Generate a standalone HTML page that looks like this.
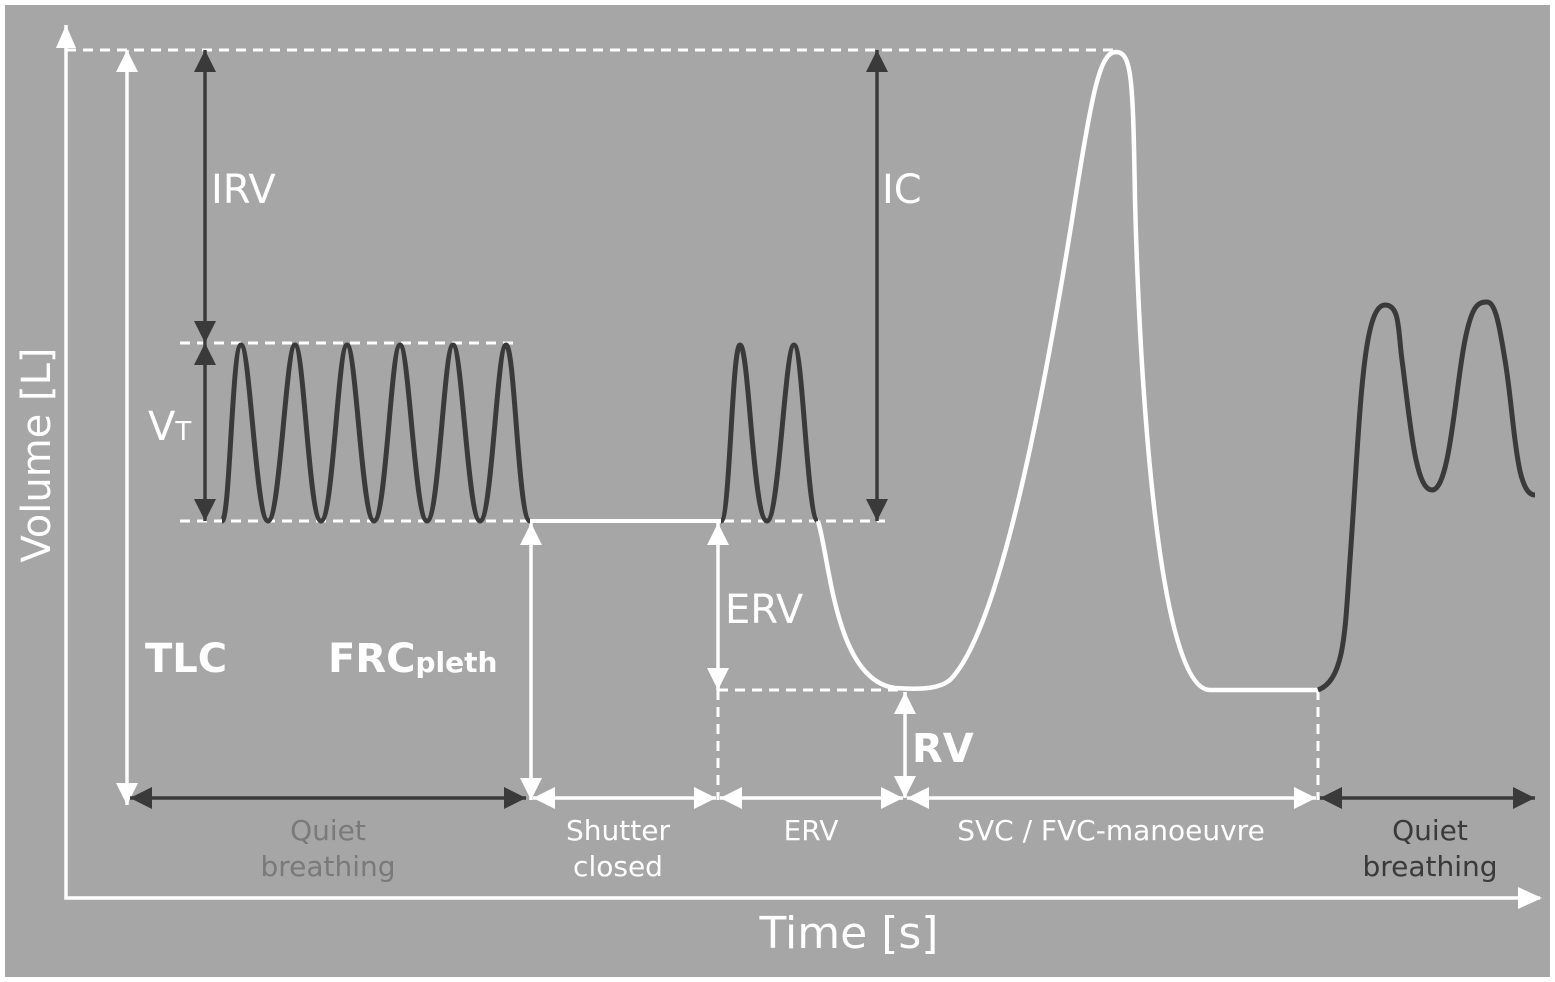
<!DOCTYPE html>
<html><head><meta charset="utf-8"><style>
html,body{margin:0;padding:0;background:#fff}
svg{display:block}
text{font-family:"DejaVu Sans","Liberation Sans",sans-serif}
</style></head><body>
<svg width="1555" height="982" viewBox="0 0 1555 982" xmlns="http://www.w3.org/2000/svg">
<defs>
<marker id="wa" viewBox="0 0 10 10" refX="10" refY="5" markerWidth="22" markerHeight="22" markerUnits="userSpaceOnUse" orient="auto-start-reverse"><path d="M0,0 L10,5 L0,10 z" fill="#fff"/></marker>
<marker id="da" viewBox="0 0 10 10" refX="10" refY="5" markerWidth="22" markerHeight="22" markerUnits="userSpaceOnUse" orient="auto-start-reverse"><path d="M0,0 L10,5 L0,10 z" fill="#3a3a3a"/></marker>
</defs>
<rect x="5" y="5" width="1545" height="972" fill="#a6a6a6"/>
<polyline points="66,25 66,898 1540,898" fill="none" stroke="#fff" stroke-width="3.5"/>
<path d="M56,48 L66,25 L76,48 z" fill="#fff"/>
<path d="M1518,887 L1542,898 L1518,909 z" fill="#fff"/>
<g stroke="#fff" stroke-width="3" stroke-dasharray="10,7" fill="none">
<line x1="66" y1="50" x2="1115" y2="50"/>
<line x1="180" y1="343" x2="515" y2="343"/>
<line x1="180" y1="521" x2="885" y2="521"/>
<line x1="718" y1="690" x2="900" y2="690"/>
<line x1="718" y1="690" x2="718" y2="800"/>
<line x1="1318" y1="690" x2="1318" y2="800"/>
</g>
<line x1="127" y1="50" x2="127" y2="805" stroke="#fff" stroke-width="3.5" marker-start="url(#wa)" marker-end="url(#wa)"/>
<line x1="205" y1="50" x2="205" y2="343" stroke="#3a3a3a" stroke-width="3.5" marker-start="url(#da)" marker-end="url(#da)"/>
<line x1="205" y1="343" x2="205" y2="521" stroke="#3a3a3a" stroke-width="3.5" marker-start="url(#da)" marker-end="url(#da)"/>
<line x1="877" y1="50" x2="877" y2="521" stroke="#3a3a3a" stroke-width="3.5" marker-start="url(#da)" marker-end="url(#da)"/>
<line x1="531" y1="523" x2="531" y2="800" stroke="#fff" stroke-width="3.5" marker-start="url(#wa)" marker-end="url(#wa)"/>
<line x1="718" y1="523" x2="718" y2="690" stroke="#fff" stroke-width="3.5" marker-start="url(#wa)" marker-end="url(#wa)"/>
<line x1="905" y1="692" x2="905" y2="798" stroke="#fff" stroke-width="3.5" marker-start="url(#wa)" marker-end="url(#wa)"/>
<line x1="130" y1="798" x2="526" y2="798" stroke="#3a3a3a" stroke-width="3.5" marker-start="url(#da)" marker-end="url(#da)"/>
<line x1="533" y1="798" x2="716" y2="798" stroke="#fff" stroke-width="3.5" marker-start="url(#wa)" marker-end="url(#wa)"/>
<line x1="720" y1="798" x2="903" y2="798" stroke="#fff" stroke-width="3.5" marker-start="url(#wa)" marker-end="url(#wa)"/>
<line x1="907" y1="798" x2="1316" y2="798" stroke="#fff" stroke-width="3.5" marker-start="url(#wa)" marker-end="url(#wa)"/>
<line x1="1320" y1="798" x2="1535" y2="798" stroke="#3a3a3a" stroke-width="3.5" marker-start="url(#da)" marker-end="url(#da)"/>
<path d="M222,521 C230,521 232,345 241,345 C250,345 256,521 268,521 C280,521 286,345 295,345 C304,345 309,521 321,521 C333,521 338,345 347,345 C356,345 362,521 374,521 C386,521 391,345 400,345 C409,345 415,521 427,521 C439,521 444,345 453,345 C462,345 468,521 480,521 C492,521 497,345 506,345 C515,345 518,521 530,521" fill="none" stroke="#3a3a3a" stroke-width="5"/>
<line x1="530" y1="521" x2="721" y2="521" stroke="#fff" stroke-width="4"/>
<path d="M721,521 C730,521 732,345 740,345 C749,345 753,521 767,521 C779,521 785,345 794,345 C803,345 807,521 818,521" fill="none" stroke="#3a3a3a" stroke-width="5"/>
<path d="M818,521 C830,560 835,680 895,688 C925,690 940,688 950,680 C990,640 1030,480 1072,220 C1092,90 1100,52 1116,52 C1132,52 1133,80 1135,200 C1140,400 1160,690 1210,690 L1318,690" fill="none" stroke="#fff" stroke-width="4.5"/>
<path d="M1318,690 C1345,680 1345,630 1350,560 C1360,420 1362,305 1385,305 C1400,305 1398,330 1402,360 C1410,420 1415,490 1432,490 C1450,490 1455,390 1465,340 C1472,305 1478,302 1487,302 C1496,302 1500,330 1505,360 C1515,420 1515,495 1535,495" fill="none" stroke="#3a3a3a" stroke-width="5"/>
<g fill="#fff" font-size="40">
<text x="211" y="203">IRV</text>
<text x="882" y="203">IC</text>
<text x="148" y="440">V<tspan font-size="26">T</tspan></text>
<text x="725" y="623">ERV</text>
<text x="145" y="672" font-weight="bold">TLC</text>
<text x="328" y="672" font-weight="bold">FRC<tspan font-size="28">pleth</tspan></text>
<text x="912" y="762" font-weight="bold">RV</text>
<text x="50" y="455" transform="rotate(-90 50 455)" text-anchor="middle" font-size="40">Volume [L]</text>
<text x="849" y="948" text-anchor="middle" font-size="44">Time [s]</text>
</g>
<g font-size="28" text-anchor="middle">
<text x="328" y="840" fill="#7a7a7a">Quiet</text>
<text x="328" y="876" fill="#7a7a7a">breathing</text>
<text x="618" y="840" fill="#fff">Shutter</text>
<text x="618" y="876" fill="#fff">closed</text>
<text x="811" y="840" fill="#fff">ERV</text>
<text x="1111" y="840" fill="#fff">SVC / FVC-manoeuvre</text>
<text x="1430" y="840" fill="#3a3a3a">Quiet</text>
<text x="1430" y="876" fill="#3a3a3a">breathing</text>
</g>
</svg>
</body></html>
